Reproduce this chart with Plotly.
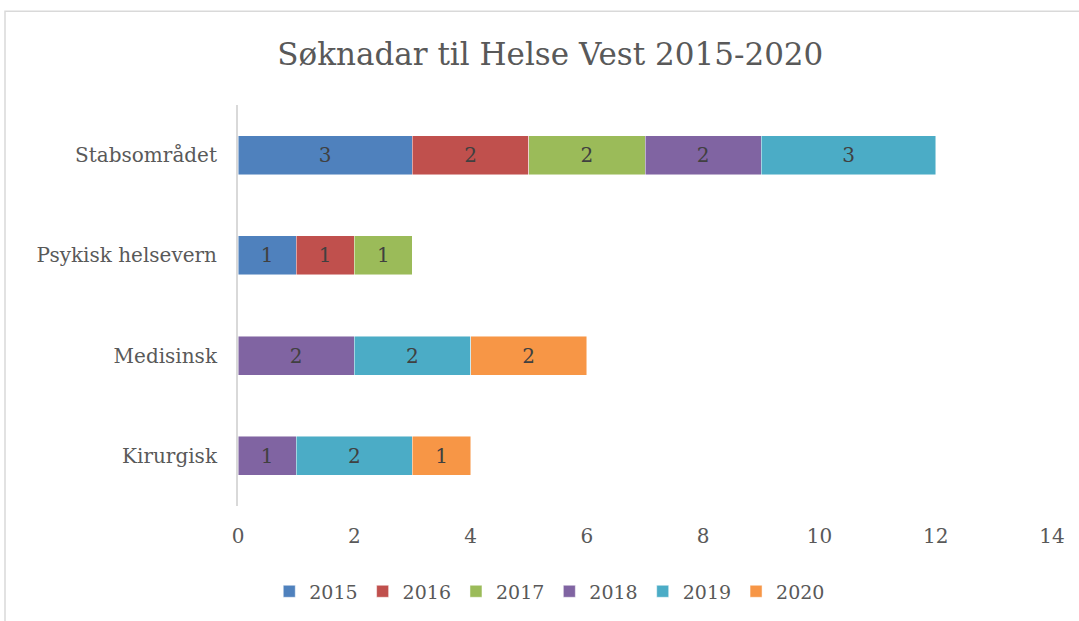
import plotly.graph_objects as go

categories = ["Kirurgisk", "Medisinsk", "Psykisk helsevern", "Stabsområdet"]
years = ["2015", "2016", "2017", "2018", "2019", "2020"]
v2015 = [None, None, 1, 3]
v2016 = [None, None, 1, 2]
v2017 = [None, None, 1, 2]
v2018 = [1, 2, None, 2]
v2019 = [2, 2, None, 3]
v2020 = [1, 2, None, None]
series = [v2015, v2016, v2017, v2018, v2019, v2020]
colors = ["#4F81BD", "#C0504D", "#9BBB59", "#8064A2", "#4BACC6", "#F79646"]
xticks = [0, 2, 4, 6, 8, 10, 12, 14]

FONT = "DejaVu Serif"

fig = go.Figure()
for name, vals, col in zip(years, series, colors):
    fig.add_trace(go.Bar(
        y=categories, x=vals, name=name, orientation="h",
        marker=dict(color=col, line=dict(color="rgba(255,255,255,0.6)", width=0.8)),
        text=[str(v) if v else "" for v in vals],
        textposition="inside", insidetextanchor="middle",
        textfont=dict(family=FONT, size=20, color="#404040"),
        hoverinfo="skip",
    ))

fig.update_layout(
    barmode="stack",
    bargap=0.61,
    width=1079, height=621,
    margin=dict(l=238, r=27, t=105, b=114),
    paper_bgcolor="white", plot_bgcolor="white",
    font=dict(family=FONT, color="#595959", size=20),
    title=dict(text="Søknadar til Helse Vest 2015-2020", x=0.51, xanchor="center",
               y=0.913, yanchor="middle",
               font=dict(family=FONT, size=31, color="#595959")),
    xaxis=dict(range=[0, 14], tickvals=xticks, showgrid=False, zeroline=False,
               showline=False, ticks="", ticklabelstandoff=16,
               tickfont=dict(size=20, color="#595959")),
    yaxis=dict(showgrid=False, zeroline=False, showline=True, linecolor="#D9D9D9",
               linewidth=2, ticks="", ticklabelstandoff=15,
               tickfont=dict(size=20, color="#595959")),
    legend=dict(orientation="h", x=0.383, xanchor="center", y=-0.21, yanchor="middle",
                font=dict(size=19, color="#595959"), traceorder="normal",
                itemwidth=30),
    shapes=[dict(type="rect", xref="paper", yref="paper",
                 x0=(5 - 238) / 814, x1=1.2, y0=-0.6, y1=(507 - 11) / 402,
                 line=dict(color="#D9D9D9", width=1.5), fillcolor="rgba(0,0,0,0)",
                 layer="below")],
)

fig.write_html("out.html", config={"displayModeBar": False},
               post_script="document.body.style.margin='0';")
